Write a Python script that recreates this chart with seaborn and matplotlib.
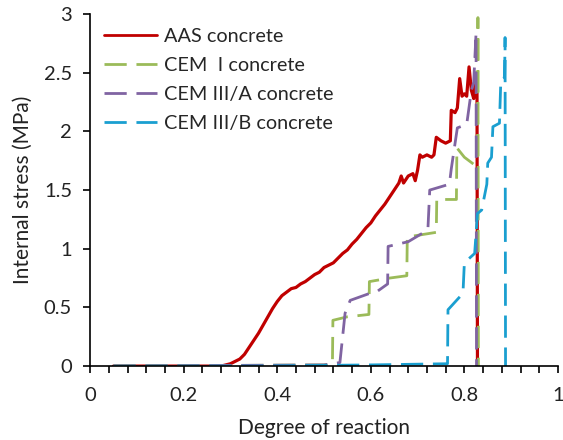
import numpy as np
import pandas as pd
import seaborn as sns
import matplotlib
matplotlib.use("Agg")
import matplotlib.pyplot as plt
from matplotlib.ticker import MultipleLocator, FormatStrFormatter

# Internal stress vs. degree of reaction for four concretes
aas_x = [0.05, 0.28, 0.30, 0.31, 0.32, 0.33, 0.34, 0.35, 0.36, 0.37, 0.38, 0.39, 0.40,
         0.41, 0.42, 0.43, 0.44, 0.45, 0.46, 0.47, 0.48, 0.49, 0.50, 0.51, 0.52, 0.53,
         0.54, 0.55, 0.56, 0.57, 0.58, 0.59, 0.60, 0.61, 0.62, 0.63, 0.64, 0.65, 0.66,
         0.665, 0.67, 0.68, 0.69, 0.695, 0.70, 0.705, 0.71, 0.72, 0.73, 0.735, 0.74,
         0.75, 0.76, 0.77, 0.772, 0.78, 0.785, 0.79, 0.795, 0.80, 0.805, 0.81, 0.815,
         0.82, 0.824, 0.827, 0.828]
aas_y = [0.0, 0.0, 0.02, 0.04, 0.06, 0.10, 0.16, 0.22, 0.28, 0.35, 0.42, 0.49, 0.55,
         0.60, 0.63, 0.66, 0.67, 0.70, 0.72, 0.75, 0.78, 0.80, 0.84, 0.86, 0.88, 0.92,
         0.96, 0.99, 1.04, 1.08, 1.13, 1.18, 1.22, 1.28, 1.33, 1.38, 1.44, 1.50, 1.56,
         1.62, 1.56, 1.62, 1.64, 1.58, 1.67, 1.80, 1.78, 1.80, 1.78, 1.80, 1.95,
         1.92, 1.90, 1.92, 2.18, 2.16, 2.20, 2.45, 2.30, 2.32, 2.30, 2.55, 2.35,
         2.28, 2.45, 2.40, 0.0]

cem1_x = [0.05, 0.50, 0.518, 0.519, 0.55, 0.596, 0.597, 0.64, 0.677, 0.678, 0.74,
          0.741, 0.783, 0.784, 0.80, 0.82, 0.828, 0.829, 0.830]
cem1_y = [0.0, 0.01, 0.02, 0.39, 0.42, 0.44, 0.72, 0.75, 0.77, 1.10, 1.14,
          1.42, 1.42, 1.86, 1.78, 1.72, 1.75, 2.97, 0.0]

cem3a_x = [0.05, 0.50, 0.534, 0.545, 0.556, 0.598, 0.615, 0.636, 0.637, 0.68, 0.722,
           0.726, 0.768, 0.772, 0.785, 0.805, 0.815, 0.82, 0.825, 0.826]
cem3a_y = [0.0, 0.01, 0.03, 0.45, 0.56, 0.62, 0.64, 0.70, 1.02, 1.06, 1.16,
           1.50, 1.55, 1.68, 2.03, 2.06, 2.35, 2.42, 2.84, 0.0]

cem3b_x = [0.05, 0.35, 0.60, 0.764, 0.765, 0.797, 0.80, 0.822, 0.828, 0.837, 0.848,
           0.85, 0.858, 0.861, 0.875, 0.878, 0.886, 0.887, 0.888]
cem3b_y = [0.0, 0.0, 0.01, 0.02, 0.48, 0.62, 0.88, 0.96, 1.30, 1.33, 1.55,
           1.73, 1.78, 2.04, 2.07, 2.44, 2.46, 2.80, 0.0]

labels = ["AAS concrete", "CEM  I concrete", "CEM III/A concrete", "CEM III/B concrete"]
colors = ["#C00000", "#9BBB59", "#8064A2", "#1A9FD0"]

frames = []
for lab, xs, ys in zip(labels, [aas_x, cem1_x, cem3a_x, cem3b_x],
                       [aas_y, cem1_y, cem3a_y, cem3b_y]):
    frames.append(pd.DataFrame({"x": xs, "y": ys, "series": lab}))
df = pd.concat(frames, ignore_index=True)

sns.set_style("ticks")
plt.rcParams["font.family"] = ["Lato", "DejaVu Sans"]

fig = plt.figure(figsize=(5.63, 4.4), dpi=100)
ax = fig.add_axes([0.16, 0.168, 0.831, 0.80])

dash = (8, 3.5)
sns.lineplot(data=df, x="x", y="y", hue="series", style="series",
             hue_order=labels, style_order=labels,
             palette=dict(zip(labels, colors)),
             dashes={labels[0]: "", labels[1]: dash, labels[2]: dash, labels[3]: dash},
             sort=False, estimator=None, linewidth=2.0, ax=ax, legend=True)
ax.lines[0].set_linewidth(2.3)

ax.set_xlim(0, 1)
ax.set_ylim(0, 3)
ax.xaxis.set_major_locator(MultipleLocator(0.2))
ax.xaxis.set_minor_locator(MultipleLocator(0.04))
ax.yaxis.set_major_locator(MultipleLocator(0.5))
ax.xaxis.set_major_formatter(FormatStrFormatter("%g"))
ax.yaxis.set_major_formatter(FormatStrFormatter("%g"))
ax.tick_params(axis="both", which="both", direction="out", length=5, width=1.2,
               labelsize=14.5, color="black", labelcolor="#222222")
ax.tick_params(axis="x", which="major", pad=10)
ax.tick_params(axis="y", which="major", pad=8)
for s in ["left", "bottom"]:
    ax.spines[s].set_linewidth(1.2)
    ax.spines[s].set_color("black")
sns.despine(ax=ax)

ax.set_xlabel("Degree of reaction", fontsize=15, color="#222222", labelpad=10)
ax.set_ylabel("Internal stress (MPa)", fontsize=15, color="#222222", labelpad=8)

handles, _ = ax.get_legend_handles_labels()
ax.legend(handles=handles[-4:] if len(handles) > 4 else handles, labels=labels,
          loc="upper left", bbox_to_anchor=(0.0, 1.0), frameon=False,
          fontsize=14.3, handlelength=2.67, handletextpad=0.35, labelspacing=0.6,
          borderaxespad=0.3)

fig.savefig("out.png", dpi=100)
